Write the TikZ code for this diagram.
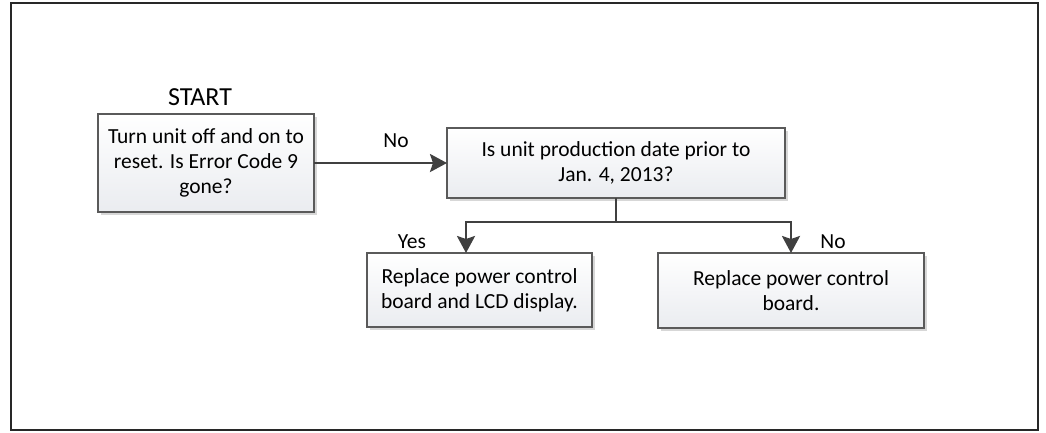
\documentclass[tikz,border=0pt]{standalone}
\usepackage{fontspec}
\setmainfont{Carlito}
\usepackage{tikz}
\usetikzlibrary{positioning, arrows.meta, shadows}
\definecolor{ink}{RGB}{64,64,64}
\definecolor{edge}{RGB}{90,90,90}
\definecolor{boxlow}{RGB}{234,236,240}
\definecolor{shade}{RGB}{215,215,215}
\definecolor{frame}{RGB}{40,40,40}

\begin{document}
\begin{tikzpicture}[
  x=1pt, y=-1pt,
  box/.style={draw=edge, line width=1.3pt, top color=white, bottom color=boxlow,
              drop shadow={shadow xshift=3pt, shadow yshift=-3pt, fill=shade, opacity=1},
              inner sep=0pt, outer sep=0pt, align=center, font=\fontsize{21.5}{25}\selectfont},
  tag/.style={font=\fontsize{21.5}{25}\selectfont, inner sep=0pt},
  arr/.style={-{Stealth[length=17pt, width=18pt, inset=3pt]}, line width=2.6pt, color=ink},
]
  \useasboundingbox (0,0) rectangle (1046,432);
  \draw[line width=2pt, color=frame] (11,3) rectangle (1038,430);

  \node[box, minimum width=216pt, minimum height=98pt] (start) at (206,163)
    {Turn unit off and on to\\reset. Is Error Code 9\\gone?};
  \node[box, minimum width=338pt, minimum height=70pt, right=133pt of start] (question)
    {Is unit production date prior to\\Jan. 4, 2013?};
  \node[box, minimum width=225pt, minimum height=74pt, anchor=north] (yes) at (479.5,253)
    {Replace power control\\board and LCD display.};
  \node[box, minimum width=266pt, minimum height=75pt, anchor=north] (no) at (791,253)
    {Replace power control\\board.};

  \node[tag, font=\fontsize{26}{30}\selectfont] (startlbl) at (200,97) {START};
  \node[tag] (nolbl) at (396,141) {No};
  \node[tag] (yeslbl) at (412,242) {Yes};
  \node[tag] (nolbl2) at (833,242) {No};

  \draw[arr] (start) -- (question);
  \draw[line width=2.6pt, color=ink] (question.south) -- ++(0,24) coordinate (split);
  \draw[arr] (split) -| ([xshift=-13.5pt]yes.north);
  \draw[arr] (split) -| (no.north);
\end{tikzpicture}
\end{document}
